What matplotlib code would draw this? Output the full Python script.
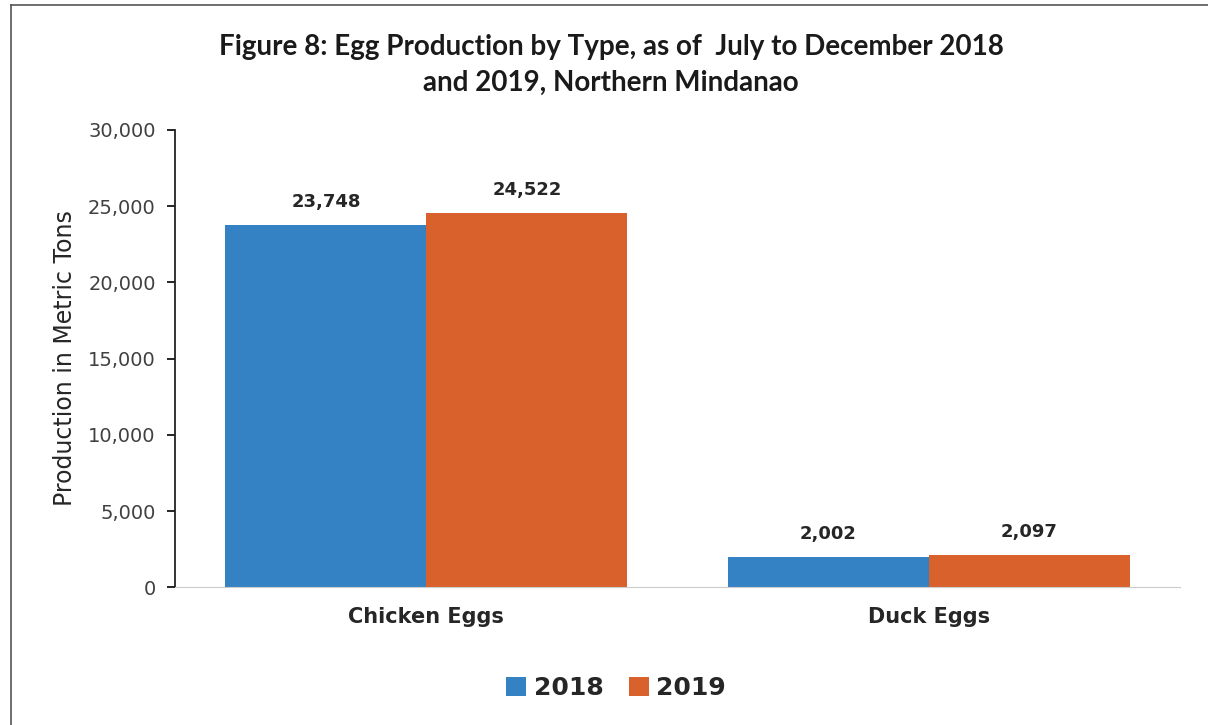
import numpy as np
import matplotlib.pyplot as plt
from matplotlib.lines import Line2D
from matplotlib.ticker import FuncFormatter

# egg production, July-December, Northern Mindanao (metric tons)
categories = ['Chicken Eggs', 'Duck Eggs']
years = ['2018', '2019']
prod_2018 = [23748, 2002]
prod_2019 = [24522, 2097]

colors = ['#3481c4', '#d8612c']

fig = plt.figure(figsize=(12.08, 7.25), dpi=100)
ax = fig.add_axes([0.145, 0.19, 0.832, 0.631])

x = np.arange(len(categories))
w = 0.4
b1 = ax.bar(x - w / 2, prod_2018, w, color=colors[0], label=years[0])
b2 = ax.bar(x + w / 2, prod_2019, w, color=colors[1], label=years[1])

for bars in (b1, b2):
    for r in bars:
        ax.annotate(f'{r.get_height():,.0f}', (r.get_x() + r.get_width() / 2, r.get_height()),
                    xytext=(0, 10), textcoords='offset points', ha='center', va='bottom',
                    fontsize=13, fontweight='bold', color='#262626')

ax.set_xlim(-0.5, 1.5)
ax.set_ylim(0, 30000)
ax.set_yticks(range(0, 30001, 5000))
ax.yaxis.set_major_formatter(FuncFormatter(lambda v, p: f'{v:,.0f}'))
ax.set_xticks(x)
ax.set_xticklabels(categories, fontsize=15, fontweight='bold', color='#262626')
ax.tick_params(axis='x', length=0, pad=14)
ax.tick_params(axis='y', labelsize=14, labelcolor='#404040', direction='out', length=6, width=1.2, pad=8)

for s in ('top', 'right'):
    ax.spines[s].set_visible(False)
ax.spines['left'].set_color('#222222')
ax.spines['left'].set_linewidth(1.3)
ax.spines['bottom'].set_color('#cccccc')

ax.set_ylabel('Production in Metric Tons', fontsize=17, color='#262626', labelpad=8)

title_kw = dict(ha='center', va='center', fontsize=20, family='Lato', fontweight='bold', color='#1a1a1a')
fig.text(0.506, 0.935, 'Figure 8: Egg Production by Type, as of  July to December 2018', **title_kw)
fig.text(0.506, 0.886, 'and 2019, Northern Mindanao', **title_kw)

leg = fig.legend(handles=[b1, b2], labels=years, loc='center', bbox_to_anchor=(0.51, 0.051),
                 ncol=2, frameon=False, prop={'size': 18, 'weight': 'bold'},
                 handlelength=0.8, handleheight=0.8, handletextpad=0.3, columnspacing=1.0)
for t in leg.get_texts():
    t.set_color('#262626')

# outer frame lines along the left and top edges
fig.add_artist(Line2D([0.009, 0.009], [0, 0.993], transform=fig.transFigure, color='#555555', lw=1.2))
fig.add_artist(Line2D([0.009, 1.0], [0.993, 0.993], transform=fig.transFigure, color='#555555', lw=1.2))

fig.savefig('out.png', dpi=100)
